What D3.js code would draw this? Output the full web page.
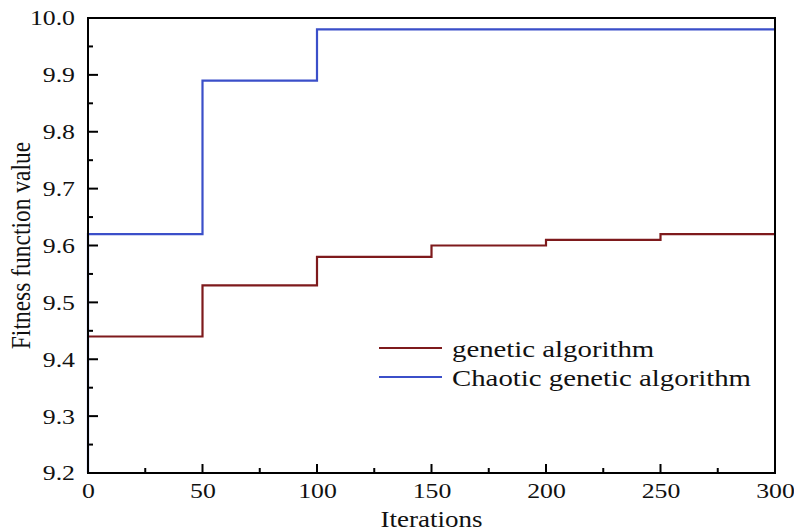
<!DOCTYPE html>
<html>
<head>
<meta charset="utf-8">
<script src="https://cdn.jsdelivr.net/npm/d3@7"></script>
<style>
  body { margin: 0; background: #fff; }
  text { font-family: "Liberation Serif", "Times New Roman", Times, "DejaVu Serif", serif; fill: #111; }
</style>
</head>
<body>
<svg id="chart" width="794" height="532"></svg>
<script>
// data
const gaIter = [0, 50, 100, 150, 200, 250, 300];
const gaFit = [9.44, 9.53, 9.58, 9.60, 9.61, 9.62, 9.62];
const cgaIter = [0, 0, 50, 100, 300];
const cgaFit = [9.2, 9.62, 9.89, 9.98, 9.98];
const xTicks = [0, 50, 100, 150, 200, 250, 300];
const yTicks = [9.2, 9.3, 9.4, 9.5, 9.6, 9.7, 9.8, 9.9, 10.0];
const seriesNames = ["genetic algorithm", "Chaotic genetic algorithm"];
const seriesColors = ["#7e1a1c", "#3b4fc9"];

const serif = '"Liberation Serif", "Times New Roman", Times, "DejaVu Serif", serif';
const stretch = 1.2; // the source figure's text is widened

const svg = d3.select("svg#chart");
const margins = { top: 18, left: 88, right: 19, bottom: 59 };
const width = +svg.attr("width") - margins.left - margins.right;
const height = +svg.attr("height") - margins.top - margins.bottom;

const chartArea = svg.append("g")
  .attr("transform", `translate(${margins.left},${margins.top})`);

const xScale = d3.scaleLinear().domain([0, 300]).range([0, width]);
const yScale = d3.scaleLinear().domain([9.2, 10.0]).range([height, 0]);

// minor ticks (inside)
const xMinor = d3.range(25, 300, 50);
const yMinor = d3.range(9.25, 10.0, 0.1);

const xAxis = d3.axisBottom(xScale).tickValues(xTicks).tickSize(0).tickPadding(10)
  .tickFormat(d3.format("d"));
const yAxis = d3.axisLeft(yScale).tickValues(yTicks).tickSize(0).tickPadding(13 / stretch)
  .tickFormat(d3.format(".1f"));

const gx = chartArea.append("g").attr("transform", `translate(0,${height})`).call(xAxis);
const gy = chartArea.append("g").call(yAxis);
[gx, gy].forEach(g => {
  g.attr("font-family", serif).attr("font-size", 21.5);
  g.select(".domain").remove();
  g.selectAll("text")
    .attr("fill", "#111")
    .attr("transform", `scale(${stretch},1)`);
});

// inward tick marks
chartArea.append("g").selectAll("line.xmaj").data(xTicks).join("line")
  .attr("x1", d => xScale(d)).attr("x2", d => xScale(d))
  .attr("y1", height).attr("y2", height - 9)
  .attr("stroke", "#000").attr("stroke-width", 2);
chartArea.append("g").selectAll("line.xmin").data(xMinor).join("line")
  .attr("x1", d => xScale(d)).attr("x2", d => xScale(d))
  .attr("y1", height).attr("y2", height - 5)
  .attr("stroke", "#000").attr("stroke-width", 2);
chartArea.append("g").selectAll("line.ymaj").data(yTicks).join("line")
  .attr("x1", 0).attr("x2", 10)
  .attr("y1", d => yScale(d)).attr("y2", d => yScale(d))
  .attr("stroke", "#000").attr("stroke-width", 2);
chartArea.append("g").selectAll("line.ymin").data(yMinor).join("line")
  .attr("x1", 0).attr("x2", 5)
  .attr("y1", d => yScale(d)).attr("y2", d => yScale(d))
  .attr("stroke", "#000").attr("stroke-width", 2);

// step lines
const line = d3.line()
  .x(d => xScale(d[0]))
  .y(d => yScale(d[1]))
  .curve(d3.curveStepAfter);

const series = [
  d3.zip(gaIter, gaFit),
  d3.zip(cgaIter, cgaFit)
];

chartArea.selectAll("path.series").data(series).join("path")
  .attr("class", "series")
  .attr("d", line)
  .attr("fill", "none")
  .attr("stroke", (d, i) => seriesColors[i])
  .attr("stroke-width", 2.2);

// frame
chartArea.append("rect")
  .attr("width", width).attr("height", height)
  .attr("fill", "none").attr("stroke", "#000").attr("stroke-width", 2);

// legend
const legend = svg.append("g").attr("transform", "translate(379,348)");
seriesNames.forEach((name, i) => {
  const row = legend.append("g").attr("transform", `translate(0,${i * 29})`);
  row.append("line").attr("x1", 0).attr("x2", 63).attr("y1", 0).attr("y2", 0)
    .attr("stroke", seriesColors[i]).attr("stroke-width", 2);
  row.append("text")
    .attr("transform", `translate(73,9) scale(${stretch},1)`)
    .style("font-family", serif).style("font-size", "24px").text(name);
});

// axis titles
svg.append("text")
  .attr("transform", `translate(${margins.left + xScale(150)},527) scale(${stretch},1)`)
  .attr("text-anchor", "middle")
  .style("font-family", serif).style("font-size", "22.5px")
  .text("Iterations");
svg.append("text")
  .attr("transform", `translate(30,${margins.top + height / 2}) scale(${stretch},1) rotate(-90)`)
  .attr("text-anchor", "middle")
  .style("font-family", serif).style("font-size", "23.5px")
  .text("Fitness function value");
</script>
</body>
</html>
